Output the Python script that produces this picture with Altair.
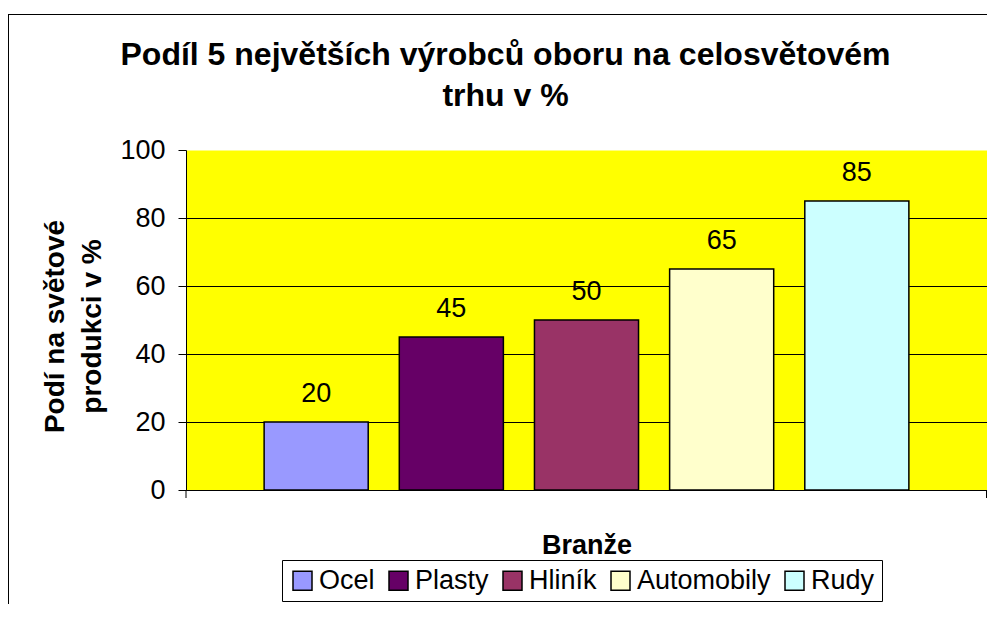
import altair as alt
import pandas as pd

categories = ["Ocel", "Plasty", "Hliník", "Automobily", "Rudy"]
values = [20, 45, 50, 65, 85]
colors = ["#9999FF", "#660066", "#993366", "#FFFFCC", "#CCFFFF"]
y_ticks = [0, 20, 40, 60, 80, 100]

title_lines = ["Podíl 5 největších výrobců oboru na celosvětovém", "trhu v %"]
y_title = ["Podí na světové", "produkci v %"]
x_title = "Branže"

FONT = "Liberation Sans"

df = pd.DataFrame({"branze": categories, "podil": values})

x = alt.X(
    "branze:N",
    sort=categories,
    scale=alt.Scale(paddingInner=0.23, paddingOuter=0.578),
    axis=alt.Axis(
        title=x_title, labels=False, ticks=False,
        domainColor="black", domainWidth=1,
        titleFontSize=27, titleFontWeight="bold", titleFont=FONT, titleColor="black",
        titleBaseline="alphabetic", titleY=63,
    ),
)
y = alt.Y(
    "podil:Q",
    scale=alt.Scale(domain=[0, 100]),
    axis=alt.Axis(
        values=y_ticks, title=y_title,
        titleFontSize=28, titleFontWeight="bold", titleFont=FONT, titleColor="black",
        titleAngle=-90, titleX=-123, titleY=176, titleAlign="center", titleBaseline="alphabetic",
        titleLineHeight=37,
        labelFontSize=27, labelFont=FONT, labelColor="black", labelPadding=13,
        tickSize=8, tickColor="black", tickWidth=1,
        domainColor="black", domainWidth=1,
        grid=True, gridColor="black", gridWidth=1,
        gridOpacity={"condition": {"test": "datum.value >= 100", "value": 0}, "value": 1},
    ),
)

bars = alt.Chart(df).mark_bar(stroke="black", strokeWidth=1.5).encode(
    x=x,
    y=y,
    color=alt.Color(
        "branze:N",
        scale=alt.Scale(domain=categories, range=colors),
        legend=alt.Legend(
            title=None, orient="none", legendX=96, legendY=410,
            direction="horizontal", columns=5,
            strokeColor="black", fillColor="white", padding=7,
            symbolType="square", symbolSize=361, symbolStrokeColor="black",
            symbolStrokeWidth=1.5, symbolOpacity=1,
            labelFontSize=27, labelFont=FONT, labelColor="black",
            columnPadding=10, labelOffset=3,
        ),
    ),
)

labels = alt.Chart(df).mark_text(
    dy=-20, baseline="alphabetic", fontSize=27, font=FONT, color="black"
).encode(x=x, y=y, text="podil:Q")

one = pd.DataFrame({"d": [0]})
frame_left = alt.Chart(one).mark_rule(color="black", strokeWidth=1).encode(
    x=alt.value(-177.5), y=alt.value(-136), y2=alt.value(600)
)
frame_top = alt.Chart(one).mark_rule(color="black", strokeWidth=1).encode(
    x=alt.value(-178), x2=alt.value(900), y=alt.value(-135.5)
)
end_tick_left = alt.Chart(one).mark_rule(color="black", strokeWidth=1).encode(
    x=alt.value(0), y=alt.value(340), y2=alt.value(348)
)
end_tick_right = alt.Chart(one).mark_rule(color="black", strokeWidth=1).encode(
    x=alt.value(800.5), y=alt.value(340), y2=alt.value(348)
)

chart = alt.layer(bars, labels, frame_left, frame_top, end_tick_left, end_tick_right).properties(
    width=801,
    height=340,
    autosize=alt.AutoSizeParams(type="none"),
    padding={"left": 178, "top": 142, "right": 0, "bottom": 114},
    background="white",
    title=alt.TitleParams(
        text=title_lines, fontSize=32, font=FONT, fontWeight="bold", color="black",
        anchor="middle", frame="group", dx=-81, offset=-124, baseline="alphabetic",
        lineHeight=41,
    ),
).configure_view(fill="#FFFF00", stroke="transparent")

chart.save("out.html", embed_options={"renderer": "svg", "actions": False})
